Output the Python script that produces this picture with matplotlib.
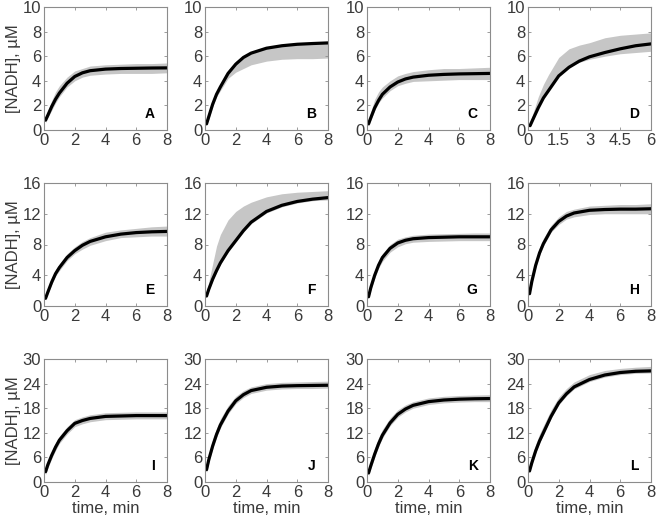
import matplotlib
matplotlib.use("Agg")
import matplotlib.pyplot as plt

plt.rcParams['font.family'] = ['Liberation Sans', 'DejaVu Sans']

# time grids (min)
T = [0.1, 0.25, 0.5, 0.75, 1, 1.5, 2, 2.5, 3, 4, 5, 6, 7, 8]
TD = [0.1, 0.25, 0.5, 0.75, 1, 1.5, 2, 2.5, 3, 3.75, 4.5, 5.25, 6]

letters = ['A', 'B', 'C', 'D', 'E', 'F', 'G', 'H', 'I', 'J', 'K', 'L']

# fitted curves
A_fit = [0.8, 1.2, 1.9, 2.5, 3.0, 3.8, 4.35, 4.65, 4.82, 4.95, 5.0, 5.02, 5.04, 5.05]
B_fit = [0.5, 1.1, 2.1, 2.9, 3.5, 4.6, 5.35, 5.9, 6.25, 6.65, 6.85, 6.97, 7.03, 7.08]
C_fit = [0.5, 1.0, 1.8, 2.4, 2.9, 3.5, 3.9, 4.15, 4.3, 4.45, 4.52, 4.56, 4.58, 4.6]
D_fit = [0.35, 0.9, 1.8, 2.6, 3.2, 4.4, 5.1, 5.6, 5.95, 6.3, 6.6, 6.85, 7.0]
E_fit = [1.0, 1.8, 3.1, 4.2, 5.0, 6.3, 7.2, 7.9, 8.4, 9.0, 9.35, 9.55, 9.65, 9.7]
F_fit = [1.3, 2.2, 3.5, 4.6, 5.6, 7.2, 8.5, 9.8, 10.9, 12.3, 13.1, 13.6, 13.9, 14.1]
G_fit = [1.2, 2.4, 4.0, 5.3, 6.3, 7.5, 8.2, 8.55, 8.75, 8.9, 8.95, 9.0, 9.0, 9.0]
H_fit = [1.6, 3.2, 5.3, 6.9, 8.1, 9.9, 11.0, 11.7, 12.1, 12.45, 12.55, 12.6, 12.6, 12.65]
I_fit = [2.5, 4.2, 6.5, 8.5, 10.2, 12.5, 14.3, 15.0, 15.5, 16.0, 16.1, 16.2, 16.2, 16.2]
J_fit = [3.0, 5.5, 8.8, 11.6, 13.9, 17.3, 19.8, 21.3, 22.3, 23.1, 23.4, 23.5, 23.55, 23.6]
K_fit = [2.2, 4.0, 6.8, 9.3, 11.4, 14.4, 16.5, 17.8, 18.7, 19.6, 20.0, 20.2, 20.3, 20.35]
L_fit = [2.7, 4.7, 7.6, 10.0, 12.0, 16.0, 19.3, 21.5, 23.2, 25.0, 26.1, 26.7, 27.0, 27.1]

# measured data envelopes (lower / upper)
A_lo = [0.6, 1.0, 1.6, 2.2, 2.7, 3.5, 4.0, 4.3, 4.45, 4.55, 4.6, 4.6, 4.6, 4.65]
A_hi = [1.1, 1.6, 2.4, 3.1, 3.6, 4.3, 4.8, 5.0, 5.2, 5.3, 5.35, 5.4, 5.4, 5.45]
B_lo = [0.4, 0.9, 1.9, 2.7, 3.2, 4.2, 4.7, 5.0, 5.3, 5.6, 5.75, 5.8, 5.8, 5.85]
B_hi = [0.7, 1.3, 2.3, 3.1, 3.7, 4.8, 5.6, 6.0, 6.3, 6.75, 6.95, 7.05, 7.1, 7.2]
C_lo = [0.3, 0.8, 1.6, 2.2, 2.6, 3.2, 3.6, 3.8, 3.95, 4.0, 4.05, 4.1, 4.1, 4.1]
C_hi = [0.8, 1.5, 2.5, 3.1, 3.5, 4.0, 4.4, 4.6, 4.75, 4.9, 5.0, 5.0, 5.05, 5.1]
D_lo = [0.3, 0.8, 1.8, 2.6, 3.3, 4.5, 5.2, 5.5, 5.75, 6.0, 6.2, 6.3, 6.4]
D_hi = [0.6, 1.4, 2.7, 3.7, 4.5, 5.9, 6.6, 6.9, 7.1, 7.5, 7.7, 7.8, 7.9]
E_lo = [0.8, 1.6, 2.8, 3.9, 4.6, 5.9, 6.8, 7.4, 7.9, 8.5, 8.9, 9.0, 9.1, 9.1]
E_hi = [1.3, 2.2, 3.6, 4.7, 5.5, 6.8, 7.7, 8.4, 8.9, 9.6, 9.9, 10.1, 10.3, 10.4]
F_lo = [1.1, 2.0, 3.3, 4.4, 5.4, 7.0, 8.3, 9.6, 10.7, 12.1, 12.9, 13.4, 13.7, 13.8]
F_hi = [1.6, 3.2, 5.5, 7.8, 9.3, 11.2, 12.3, 13.0, 13.5, 14.2, 14.6, 14.8, 14.9, 15.0]
G_lo = [1.0, 2.1, 3.6, 4.9, 5.8, 7.0, 7.7, 8.1, 8.3, 8.4, 8.45, 8.5, 8.5, 8.5]
G_hi = [1.5, 2.8, 4.5, 5.8, 6.8, 8.0, 8.7, 9.0, 9.2, 9.35, 9.4, 9.45, 9.5, 9.5]
H_lo = [1.4, 2.9, 5.0, 6.6, 7.8, 9.6, 10.6, 11.3, 11.6, 11.9, 12.0, 12.0, 12.0, 12.0]
H_hi = [2.0, 3.8, 6.0, 7.6, 8.8, 10.5, 11.6, 12.3, 12.6, 13.0, 13.1, 13.2, 13.2, 13.3]
I_lo = [1.8, 3.4, 5.7, 7.7, 9.4, 11.7, 13.5, 14.2, 14.7, 15.2, 15.3, 15.4, 15.4, 15.4]
I_hi = [3.4, 5.2, 7.5, 9.5, 11.2, 13.5, 15.2, 15.9, 16.4, 16.9, 17.0, 17.1, 17.1, 17.1]
J_lo = [2.3, 4.8, 8.1, 10.9, 13.2, 16.6, 19.1, 20.6, 21.6, 22.4, 22.7, 22.8, 22.8, 22.9]
J_hi = [4.0, 7.0, 10.3, 13.1, 15.4, 18.6, 20.9, 22.3, 23.2, 24.0, 24.3, 24.4, 24.5, 24.6]
K_lo = [1.5, 3.3, 6.1, 8.6, 10.7, 13.7, 15.8, 17.1, 18.0, 18.9, 19.3, 19.5, 19.6, 19.6]
K_hi = [3.2, 5.3, 8.3, 10.8, 12.8, 15.6, 17.6, 18.8, 19.6, 20.5, 20.9, 21.1, 21.2, 21.3]
L_lo = [2.2, 4.2, 7.1, 9.5, 11.5, 15.5, 18.8, 21.0, 22.7, 24.5, 25.6, 26.2, 26.5, 26.6]
L_hi = [3.8, 6.2, 9.2, 11.7, 13.7, 17.6, 20.7, 22.8, 24.4, 26.2, 27.2, 27.7, 28.0, 28.2]

fits = [A_fit, B_fit, C_fit, D_fit, E_fit, F_fit, G_fit, H_fit, I_fit, J_fit, K_fit, L_fit]
los = [A_lo, B_lo, C_lo, D_lo, E_lo, F_lo, G_lo, H_lo, I_lo, J_lo, K_lo, L_lo]
his = [A_hi, B_hi, C_hi, D_hi, E_hi, F_hi, G_hi, H_hi, I_hi, J_hi, K_hi, L_hi]

row_ymax = [10, 16, 30]
row_yticks = [[0, 2, 4, 6, 8, 10], [0, 4, 8, 12, 16], [0, 6, 12, 18, 24, 30]]
xticks_8 = [0, 2, 4, 6, 8]
xticks_6 = [0, 1.5, 3, 4.5, 6]
xticklabels_6 = ['0', '1.5', '3', '4.5', '6']

W, H = 656, 523
fig = plt.figure(figsize=(W / 100, H / 100), dpi=100)

col_left = [44, 205, 367, 528]
row_top = [7, 183, 359]
aw, ah = 123, 123

frame_col = '#8c8c8c'
text_col = '#3a3a3a'

for i in range(12):
    r, c = divmod(i, 4)
    ax = fig.add_axes([col_left[c] / W, 1 - (row_top[r] + ah) / H, aw / W, ah / H])
    t = TD if i == 3 else T
    ax.fill_between(t, los[i], his[i], color='#c6c6c6', lw=0)
    ax.plot(t, fits[i], color='black', lw=2.3, solid_capstyle='round',
            solid_joinstyle='round')
    if i == 3:
        ax.set_xlim(0, 6)
        ax.set_xticks(xticks_6)
        ax.set_xticklabels(xticklabels_6)
    else:
        ax.set_xlim(0, 8)
        ax.set_xticks(xticks_8)
    ax.set_ylim(0, row_ymax[r])
    ax.set_yticks(row_yticks[r])
    for s in ax.spines.values():
        s.set_color(frame_col)
        s.set_linewidth(0.8)
    ax.tick_params(direction='in', length=2.5, width=0.6, color=frame_col,
                   labelsize=12, labelcolor=text_col, top=True, right=True, pad=2)
    ax.text(0.9, 0.07, letters[i], transform=ax.transAxes, ha='right', va='bottom',
            fontsize=10, fontweight='bold', color='black')
    if c == 0:
        ax.set_ylabel('[NADH], µM', fontsize=12, color=text_col, labelpad=1)
    if r == 2:
        ax.set_xlabel('time, min', fontsize=12, color=text_col, labelpad=1)

fig.savefig('out.png', dpi=100)
